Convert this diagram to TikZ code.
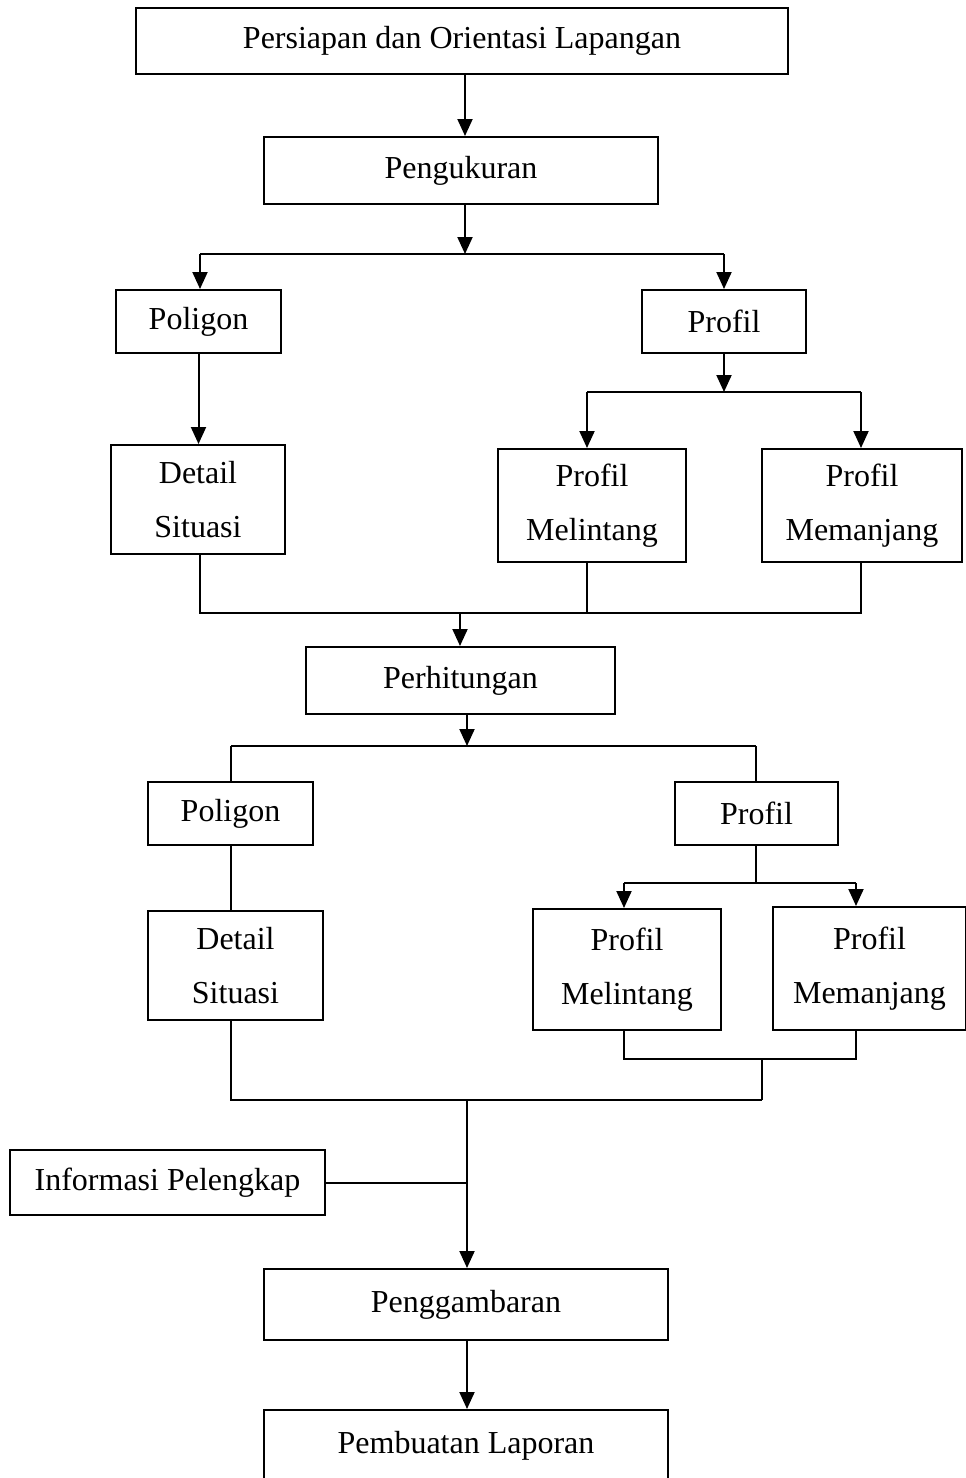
\documentclass[tikz,border=0pt]{standalone}
\usepackage{fontspec}
\setmainfont{Liberation Serif}
\usetikzlibrary{arrows.meta}
\begin{document}
\begin{tikzpicture}[x=1pt,y=-1pt,
  box/.style={draw, line width=2pt, inner sep=0pt, align=center,
    font={\fontsize{32}{54}\selectfont}},
  link/.style={line width=2pt},
  arr/.style={link, -{Triangle[length=17pt,width=15pt]}}]
\useasboundingbox (0,0) rectangle (966,1478);

% measurement stage
\node[box, minimum width=652, minimum height=66] (A) at (462,41) {Persiapan dan Orientasi Lapangan};
\node[box, minimum width=394, minimum height=67] (B) at (461,170.5) {Pengukuran};
\node[box, minimum width=165, minimum height=63] (C) at (198.5,321.5) {Poligon};
\node[box, minimum width=164, minimum height=63] (D) at (724,321.5) {Profil};
\node[box, minimum width=174, minimum height=109] (E) at (198,499.5) {Detail\\Situasi};
\node[box, minimum width=188, minimum height=113] (F) at (592,505.5) {Profil\\Melintang};
\node[box, minimum width=200, minimum height=113] (G) at (862,505.5) {Profil\\Memanjang};

% computation stage
\node[box, minimum width=309, minimum height=67] (H) at (460.5,680.5) {Perhitungan};
\node[box, minimum width=165, minimum height=63] (I) at (230.5,813.5) {Poligon};
\node[box, minimum width=163, minimum height=63] (J) at (756.5,813.5) {Profil};
\node[box, minimum width=175, minimum height=109] (K) at (235.5,965.5) {Detail\\Situasi};
\node[box, minimum width=188, minimum height=121] (L) at (627,969.5) {Profil\\Melintang};
\node[box, minimum width=193, minimum height=123] (M) at (869.5,968.5) {Profil\\Memanjang};

% drawing and report stage
\node[box, minimum width=315, minimum height=65] (N) at (167.5,1182.5) {Informasi Pelengkap};
\node[box, minimum width=404, minimum height=71] (O) at (466,1304.5) {Penggambaran};
\node[box, minimum width=404, minimum height=72] (P) at (466,1446) {Pembuatan Laporan};

% junction points
\coordinate (j1) at (465,254);
\coordinate (j1l) at (200,254);
\coordinate (j1r) at (724,254);
\coordinate (j2) at (724,392);
\coordinate (j2l) at (587,392);
\coordinate (j2r) at (861,392);
\coordinate (m1) at (460,613);
\coordinate (j3) at (467,746);
\coordinate (j3l) at (231,746);
\coordinate (j3r) at (756,746);
\coordinate (j4) at (756,883);
\coordinate (j4l) at (624,883);
\coordinate (j4r) at (856,883);
\coordinate (m2c) at (762,1059);
\coordinate (m3) at (467,1100);
\coordinate (m3r) at (762,1100);

% connectors: measurement
\draw[arr] (A.south -| j1) -- (j1 |- B.north);
\draw[arr] (j1 |- B.south) -- (j1);
\draw[link] (j1l) -- (j1r);
\draw[arr] (j1l) -- (j1l |- C.north);
\draw[arr] (j1r) -- (j1r |- D.north);
\draw[arr] (C.south) -- (C.south |- E.north);
\draw[arr] (j2 |- D.south) -- (j2);
\draw[link] (j2l) -- (j2r);
\draw[arr] (j2l) -- (j2l |- F.north);
\draw[arr] (j2r) -- (j2r |- G.north);
\draw[link] (E.south -| j1l) |- (j2r |- m1) -- (j2r |- G.south);
\draw[link] (F.south -| j2l) -- (j2l |- m1);
\draw[arr] (m1) -- (m1 |- H.north);

% connectors: computation
\draw[arr] (j3 |- H.south) -- (j3);
\draw[link] (j3l) -- (j3r);
\draw[link] (j3l) -- (j3l |- I.north);
\draw[link] (j3r) -- (j3r |- J.north);
\draw[link] (I.south -| j3l) -- (j3l |- K.north);
\draw[link] (j4 |- J.south) -- (j4);
\draw[link] (j4l) -- (j4r);
\draw[arr] (j4l) -- (j4l |- L.north);
\draw[arr] (j4r) -- (j4r |- M.north);
\draw[link] (L.south -| j4l) |- (j4r |- m2c) -- (j4r |- M.south);
\draw[link] (m2c) -- (m3r);
\draw[link] (K.south -| j3l) |- (m3r);

% connectors: drawing and report
\draw[arr] (m3) -- (m3 |- O.north);
\draw[link] (N.east) -- (N.east -| m3);
\draw[arr] (O.south -| m3) -- (m3 |- P.north);
\end{tikzpicture}
\end{document}
